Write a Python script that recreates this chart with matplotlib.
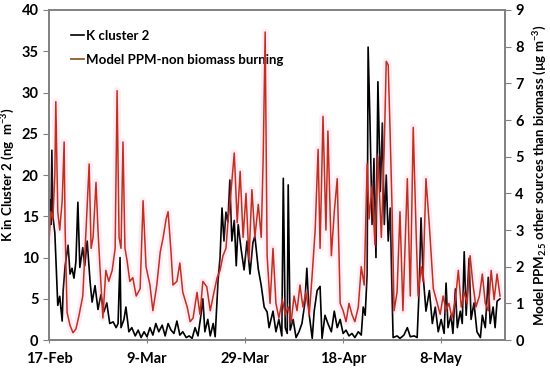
import matplotlib
matplotlib.use("Agg")
import matplotlib.pyplot as plt

plt.rcParams['font.family'] = ['Lato', 'DejaVu Sans']
plt.rcParams['font.weight'] = 'bold'
plt.rcParams['mathtext.fontset'] = 'custom'
plt.rcParams['mathtext.rm'] = 'Lato:bold'
plt.rcParams['mathtext.it'] = 'Lato:bold'
plt.rcParams['mathtext.bf'] = 'Lato:bold'

# days since 17-Feb, K cluster 2 (ng m-3)
k_days = [0.0, 0.2, 0.4, 0.6, 0.8, 1.2, 1.4, 1.8, 2.2, 2.7, 2.9, 3.3, 3.9, 4.3, 4.7,
          5.1, 5.5, 5.9, 6.3, 6.9, 7.3, 7.8, 8.4, 8.8, 9.4, 10.0, 10.6, 11.2, 11.8,
          12.4, 13.1, 13.7, 14.1, 14.5, 14.7, 15.3, 15.7, 16.3, 16.9, 17.6, 18.2,
          18.8, 19.4, 20.0, 20.6, 21.2, 21.8, 22.4, 23.1, 23.7, 24.3, 24.9, 25.5,
          26.1, 26.7, 27.3, 28.0, 28.6, 29.2, 29.8, 30.4, 31.0, 31.4, 31.8, 32.4,
          32.9, 33.5, 33.9, 34.5, 34.9, 35.3, 35.7, 36.1, 36.5, 36.9, 37.3, 37.8,
          38.2, 38.6, 39.2, 39.8, 40.4, 41.0, 41.6, 42.0, 42.7, 43.3, 43.9, 44.5,
          44.9, 45.1, 45.7, 46.3, 46.9, 47.5, 47.8, 48.2, 48.6, 48.8, 49.2, 49.8,
          50.4, 51.0, 51.6, 52.2, 52.6, 53.1, 53.7, 54.1, 54.7, 55.3, 55.7, 56.3,
          56.9, 57.6, 58.2, 58.8, 59.4, 60.0, 60.6, 61.2, 61.8, 62.4, 63.1, 63.7,
          64.1, 64.5, 64.9, 65.1, 65.5, 65.9, 66.3, 66.7, 67.1, 67.6, 68.0, 68.4,
          68.8, 69.2, 69.6, 70.0, 70.2, 71.0, 71.6, 72.4, 73.1, 73.7, 74.5, 75.1,
          75.5, 75.9, 76.3, 76.9, 77.6, 78.2, 78.8, 79.4, 80.0, 80.6, 81.0, 81.4,
          82.0, 82.4, 82.9, 83.3, 83.9, 84.3, 84.7, 85.1, 85.7, 86.1, 86.7, 87.3,
          88.0, 88.4, 89.0, 89.6, 90.0, 90.6, 91.0, 91.4, 92.0]
k_vals = [15.5, 17.0, 14.0, 23.0, 15.0, 13.0, 10.0, 4.2, 5.3, 2.3, 6.0, 9.0, 11.5, 8.0, 8.7,
          7.5, 9.5, 16.7, 8.8, 11.2, 9.0, 12.0, 7.0, 4.6, 6.6, 3.7, 5.5, 3.4, 4.5,
          2.0, 2.2, 1.5, 2.0, 10.0, 1.5, 2.5, 4.0, 1.0, 1.5, 0.5, 1.2,
          0.3, 1.0, 0.4, 1.5, 0.6, 2.0, 1.0, 1.8, 0.5, 2.0, 1.2, 0.8,
          2.3, 0.6, 1.0, 0.3, 0.5, 0.2, 1.5, 0.5, 3.0, 5.0, 1.0, 2.5,
          0.5, 2.0, 0.4, 7.3, 10.0, 16.0, 12.0, 15.5, 14.3, 19.4, 12.0, 14.5,
          9.0, 14.0, 11.0, 8.5, 12.0, 8.0, 11.8, 12.6, 8.6, 6.6, 4.0, 3.4,
          1.5, 2.0, 3.5, 1.0, 2.5, 0.5, 19.6, 1.5, 0.8, 18.8, 1.2, 2.5,
          0.3, 1.0, 2.0, 4.5, 8.7, 3.0, 0.2, 3.5, 6.0, 6.5, 0.2, 3.0,
          2.0, 1.0, 3.5, 1.5, 2.5, 0.8, 1.2, 0.5, 0.8, 0.3, 1.0, 0.6,
          4.0, 3.0, 8.0, 35.5, 26.0, 14.0, 22.0, 10.0, 31.3, 18.0, 26.3, 14.0,
          20.0, 12.0, 16.0, 5.0, 0.3, 0.5, 0.2, 0.6, 1.5, 0.4, 0.5, 0.3,
          6.0, 14.8, 8.0, 3.5, 6.0, 2.0, 4.0, 1.0, 2.5, 0.8, 6.9, 1.5,
          3.0, 0.8, 6.2, 1.5, 3.5, 2.0, 10.7, 3.0, 9.9, 2.5, 4.5, 1.0,
          0.3, 3.0, 1.5, 7.6, 2.0, 4.0, 1.5, 4.7, 5.0]

# days since 17-Feb, model PPM non biomass burning (ug m-3)
ppm_days = [0.0, 0.4, 0.8, 1.2, 1.4, 1.8, 2.2, 2.7, 3.1, 3.3, 3.7, 4.3, 4.9, 5.5, 6.1,
            6.9, 7.6, 8.2, 8.6, 9.0, 9.6, 10.0, 10.4, 11.0, 11.6, 12.2, 12.9, 13.5,
            13.9, 14.3, 14.7, 15.1, 15.5, 15.9, 16.5, 17.1, 17.8, 18.6, 19.2, 19.8,
            20.6, 21.2, 22.0, 22.7, 23.3, 23.9, 24.3, 24.9, 25.3, 26.1, 26.7, 27.3,
            28.2, 28.8, 29.4, 30.2, 30.8, 31.4, 32.2, 32.9, 33.5, 34.3, 34.9, 35.5,
            36.1, 36.5, 37.1, 37.8, 38.4, 39.0, 39.6, 40.2, 40.8, 41.4, 42.0, 42.7,
            43.3, 43.7, 44.1, 44.5, 45.1, 45.7, 46.3, 46.9, 47.6, 48.2, 48.8, 49.4,
            50.0, 50.6, 51.2, 51.8, 52.4, 53.1, 53.7, 54.3, 54.9, 55.3, 55.9, 56.5,
            56.9, 57.6, 58.2, 58.8, 59.4, 60.0, 60.6, 61.2, 61.8, 62.4, 63.1, 63.7,
            64.3, 64.9, 65.3, 65.9, 66.5, 67.1, 67.8, 68.4, 68.8, 69.2, 69.6, 70.0,
            70.4, 71.0, 71.6, 72.2, 73.1, 73.7, 74.3, 74.9, 75.3, 75.9, 76.3, 76.9,
            77.6, 78.4, 79.2, 79.8, 80.4, 81.0, 81.6, 82.2, 82.9, 83.5, 84.1, 84.7,
            85.3, 85.9, 86.5, 87.1, 87.8, 88.4, 89.0, 89.6, 90.2, 90.8, 91.4, 92.0]
ppm_vals = [2.7, 3.5, 3.3, 4.5, 6.5, 3.5, 3.0, 3.8, 5.4, 3.0, 0.75, 0.4, 0.2, 0.3, 0.65,
            1.2, 3.1, 4.8, 2.5, 2.8, 4.3, 3.0, 2.0, 0.6, 1.9, 1.6, 1.9, 2.5,
            6.8, 2.8, 2.5, 5.4, 2.5, 2.2, 1.6, 1.7, 1.2, 1.4, 3.8, 2.0,
            1.5, 0.8, 1.5, 2.4, 2.8, 3.3, 3.5, 2.4, 1.5, 1.6, 2.1, 1.3,
            0.9, 0.5, 0.6, 1.3, 0.7, 1.6, 1.45, 0.8, 1.2, 1.7, 1.9, 2.3,
            2.5, 3.2, 4.0, 5.1, 3.2, 4.6, 2.8, 4.0, 2.2, 4.1, 2.8, 3.7,
            2.8, 5.0, 8.4, 2.3, 1.0, 2.5, 1.0, 0.6, 1.1, 0.7, 0.9, 0.5,
            1.2, 0.8, 1.5, 0.9, 1.3, 0.7, 1.8, 3.0, 5.2, 2.5, 6.1, 3.0,
            5.7, 2.3, 3.5, 4.4, 1.0, 0.8, 0.5, 1.0, 0.7, 0.5, 0.9, 2.0,
            1.5, 4.8, 3.3, 4.2, 2.6, 5.0, 2.8, 5.3, 7.6, 7.5, 5.6, 3.5,
            0.8, 1.3, 3.5, 0.8, 4.4, 1.2, 5.8, 2.9, 1.2, 2.0, 1.6, 4.4,
            3.1, 1.4, 1.0, 0.7, 1.2, 0.8, 1.0, 0.6, 1.1, 1.9, 0.9, 1.3,
            1.0, 2.3, 1.5, 0.9, 1.2, 1.8, 1.0, 0.8, 1.9, 1.1, 1.8, 1.2]

tick_days = [0, 20, 40, 60, 80]
tick_labels = ['17-Feb', '9-Mar', '29-Mar', '18-Apr', '8-May']

fig = plt.figure(figsize=(5.5, 3.7), dpi=100)
ax = fig.add_axes([0.089, 0.081, 0.829, 0.892])
ax2 = ax.twinx()

ax.plot(k_days, k_vals, color='black', lw=1.2, label='K cluster 2')
ax2.plot(ppm_days, ppm_vals, color='#ff80c0', lw=5, alpha=0.15)
ax2.plot(ppm_days, ppm_vals, color='#c03020', lw=1.1)

ax.set_xlim(0, 93)
ax.set_ylim(0, 40)
ax2.set_ylim(0, 9)
ax.set_yticks(range(0, 41, 5))
ax2.set_yticks(range(0, 10))
ax.set_xticks(tick_days)
ax.set_xticklabels(tick_labels)

for a in (ax, ax2):
    for s in a.spines.values():
        s.set_color('#808080')
        s.set_linewidth(1.2)
    a.tick_params(colors='black', labelsize=10.5, length=4, color='#808080')
ax.tick_params(axis='x', direction='inout', length=5, pad=6)

ax.set_ylabel('K in Cluster 2 (ng  m$^{-3}$)', fontsize=9.5, fontweight='bold', labelpad=3)
ax2.set_ylabel('Model PPM$_{2.5}$ other sources than biomass (µg m$^{-3}$)',
               fontsize=9.5, fontweight='bold', labelpad=6)

# legend proxies
ax.plot([], [], color='#8b5a2b', lw=1.3, label='Model PPM-non biomass burning')
ax.legend(loc='upper left', frameon=False, fontsize=9.5, handlelength=1.0,
          handletextpad=0.1, labelspacing=0.9, borderaxespad=0.6,
          bbox_to_anchor=(0.02, 0.98))

fig.savefig('out.png', dpi=100)
